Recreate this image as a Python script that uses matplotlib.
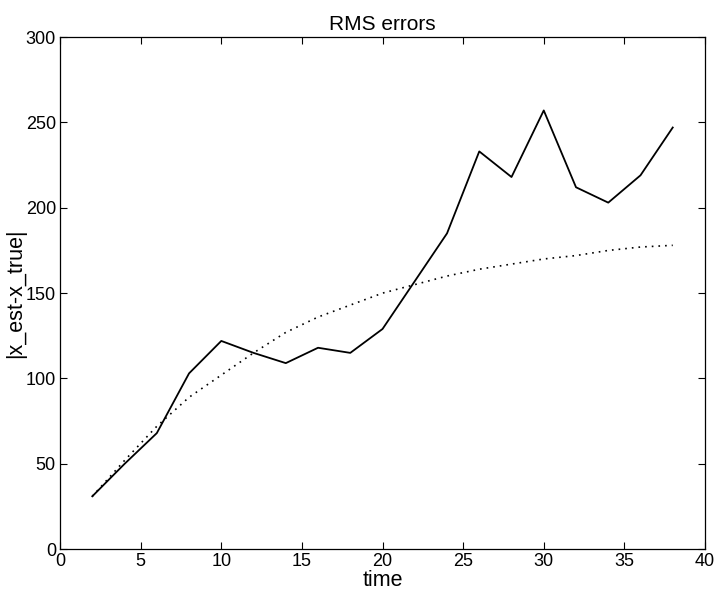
import matplotlib
matplotlib.use("Agg")
import matplotlib.pyplot as plt

plt.rcParams['font.family'] = ['Liberation Sans', 'DejaVu Sans']

time = [2, 4, 6, 8, 10, 12, 14, 16, 18, 20, 22, 24, 26, 28, 30, 32, 34, 36, 38]
rms_actual = [31, 50, 68, 103, 122, 115, 109, 118, 115, 129, 157, 185, 233, 218, 257, 212, 203, 219, 247]
rms_predicted = [31, 52, 72, 89, 102, 115, 127, 136, 143, 150, 155, 160, 164, 167, 170, 172, 175, 177, 178]

fig = plt.figure(figsize=(7.15, 5.97), dpi=100)
ax = fig.add_axes([0.084, 0.080, 0.902, 0.858])

ax.plot(time, rms_actual, color="black", linewidth=1.3, linestyle="-")
ax.plot(time, rms_predicted, color="black", linewidth=1.2, linestyle=(0, (1, 3)))

ax.set_xlim(0, 40)
ax.set_ylim(0, 300)
ax.set_xticks(range(0, 41, 5))
ax.set_yticks(range(0, 301, 50))
ax.tick_params(direction="in", top=True, right=True, length=5, width=0.8, labelsize=13, pad=3)
for s in ax.spines.values():
    s.set_linewidth(0.9)

ax.set_title("RMS errors", fontsize=15, pad=5)
ax.set_xlabel("time", fontsize=15.5, labelpad=0)
ax.set_ylabel("|x_est-x_true|", fontsize=15.5, labelpad=0)

plt.savefig("out.png", dpi=100)
